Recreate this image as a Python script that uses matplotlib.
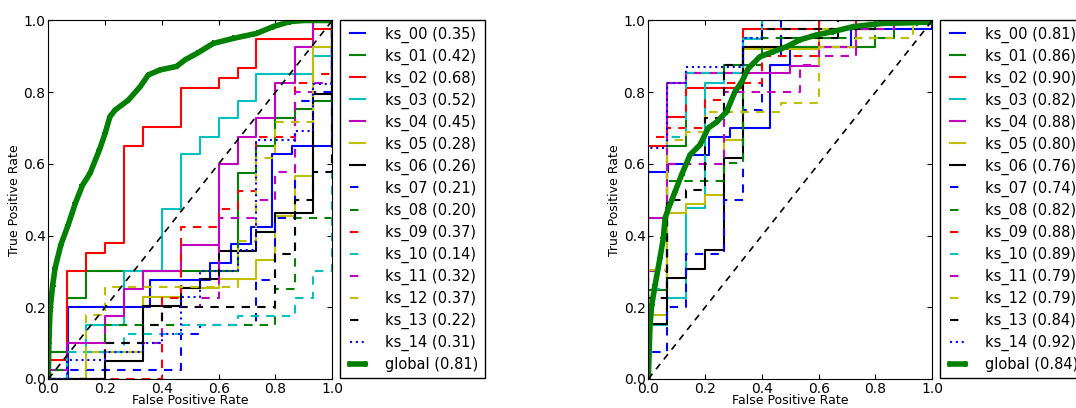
import matplotlib
matplotlib.use("Agg")
import matplotlib.pyplot as plt

# step curves: fpr where each vertical step happens, tpr level after the step
names = ['ks_%02d' % i for i in range(15)]

left_fpr = [
    [0, 0.071, 0.357, 0.571, 0.643, 0.714, 0.786, 0.857, 1.0],
    [0, 0, 0.067, 0.133, 0.667, 0.733, 0.8, 0.867, 0.933, 1.0],
    [0, 0, 0.067, 0.133, 0.2, 0.267, 0.333, 0.467, 0.6, 0.667, 0.733, 0.933, 1.0],
    [0, 0.133, 0.267, 0.4, 0.467, 0.533, 0.6, 0.667, 0.733, 0.933, 1.0],
    [0, 0, 0.067, 0.2, 0.267, 0.333, 0.467, 0.6, 0.667, 0.733, 0.8, 0.867, 0.933, 1.0],
    [0, 0.133, 0.333, 0.467, 0.6, 0.733, 0.8, 0.867, 0.933, 1.0],
    [0, 0.2, 0.333, 0.467, 0.533, 0.6, 0.733, 0.8, 0.933, 1.0],
    [0, 0, 0.467, 0.533, 0.733, 0.8, 0.867, 0.933, 1.0],
    [0, 0, 0.067, 0.2, 0.8, 0.867, 1.0],
    [0, 0.4, 0.467, 0.6, 0.667, 0.733, 0.867, 0.933, 1.0],
    [0, 0.067, 0.267, 0.467, 0.667, 0.867, 0.933, 1.0],
    [0, 0.2, 0.4, 0.533, 0.6, 0.733, 0.8, 0.867, 0.933, 1.0],
    [0, 0.133, 0.2, 0.667, 0.733, 0.8, 0.933, 1.0],
    [0, 0.2, 0.333, 0.4, 0.8, 0.867, 0.933, 1.0],
    [0, 0.067, 0.2, 0.333, 0.4, 0.467, 0.533, 0.667, 0.733, 0.867, 0.933, 1.0],
]
left_tpr = [
    [0, 0.2, 0.277, 0.324, 0.376, 0.425, 0.627, 0.65, 1.0],
    [0, 0.075, 0.225, 0.30, 0.575, 0.65, 0.727, 0.752, 0.776, 1.0],
    [0, 0.053, 0.30, 0.352, 0.378, 0.65, 0.704, 0.8125, 0.84, 0.867, 0.947, 0.975, 1.0],
    [0, 0.15, 0.30, 0.475, 0.627, 0.676, 0.727, 0.775, 0.851, 0.902, 1.0],
    [0, 0.025, 0.1, 0.175, 0.25, 0.30, 0.375, 0.6, 0.676, 0.727, 0.826, 0.927, 1.0, 1.0],
    [0, 0.075, 0.23, 0.255, 0.28, 0.333, 0.455, 0.565, 0.925, 1.0],
    [0, 0.05, 0.204, 0.255, 0.28, 0.358, 0.411, 0.462, 0.794, 1.0],
    [0, 0.025, 0.125, 0.15, 0.275, 0.45, 0.775, 0.8, 1.0],
    [0, 0.025, 0.075, 0.15, 0.25, 0.45, 1.0],
    [0, 0.225, 0.425, 0.475, 0.525, 0.676, 0.826, 0.852, 1.0],
    [0, 0.075, 0.125, 0.15, 0.175, 0.225, 0.30, 1.0],
    [0, 0.1, 0.2, 0.225, 0.45, 0.5, 0.576, 0.8, 0.825, 1.0],
    [0, 0.178, 0.256, 0.385, 0.616, 0.718, 0.925, 1.0],
    [0, 0.1, 0.15, 0.2, 0.35, 0.5, 0.576, 1.0],
    [0, 0.053, 0.075, 0.1, 0.125, 0.23, 0.3, 0.36, 0.667, 0.692, 0.823, 1.0],
]
left_auc = [0.35, 0.42, 0.68, 0.52, 0.45, 0.28, 0.26, 0.21, 0.20, 0.37, 0.14, 0.32, 0.37, 0.22, 0.31]

right_fpr = [
    [0, 0, 0.071, 0.143, 0.214, 0.286, 0.429, 0.5, 0.714, 1.0],
    [0, 0, 0.067, 0.133, 0.267, 0.333, 0.8, 0.867, 1.0],
    [0, 0, 0.067, 0.133, 0.333, 0.6, 1.0],
    [0, 0, 0.067, 0.133, 0.2, 0.267, 0.333, 0.4, 1.0],
    [0, 0, 0.067, 0.133, 0.5, 0.6, 0.733, 1.0],
    [0, 0, 0.067, 0.133, 0.2, 0.267, 0.333, 0.6, 0.8, 1.0],
    [0, 0, 0.067, 0.133, 0.2, 0.267, 0.333, 0.467, 0.667, 0.8, 1.0],
    [0, 0, 0.067, 0.133, 0.267, 0.333, 0.4, 0.467, 1.0],
    [0, 0, 0.067, 0.267, 0.333, 0.4, 0.8, 1.0],
    [0, 0, 0.067, 0.2, 0.267, 0.4, 0.6, 0.733, 1.0],
    [0, 0, 0.067, 0.133, 0.333, 0.4, 1.0],
    [0, 0, 0.067, 0.267, 0.533, 0.6, 0.733, 0.867, 1.0],
    [0, 0, 0.067, 0.133, 0.2, 0.467, 0.6, 0.733, 0.933, 1.0],
    [0, 0, 0.067, 0.133, 0.2, 0.267, 0.333, 0.4, 0.667, 1.0],
    [0, 0, 0.067, 0.133, 0.333, 0.4, 1.0],
]
right_tpr = [
    [0, 0.578, 0.6, 0.625, 0.676, 0.70, 0.876, 0.925, 0.975, 1.0],
    [0, 0.248, 0.65, 0.853, 0.876, 0.925, 0.95, 0.99, 1.0],
    [0, 0.65, 0.732, 0.813, 0.975, 1.0, 1.0],
    [0, 0.15, 0.225, 0.476, 0.827, 0.853, 0.947, 1.0, 1.0],
    [0, 0.45, 0.825, 0.853, 0.872, 0.925, 1.0, 1.0],
    [0, 0.178, 0.462, 0.487, 0.513, 0.668, 0.92, 0.975, 1.0, 1.0],
    [0, 0.152, 0.281, 0.306, 0.36, 0.616, 0.925, 0.95, 0.975, 1.0, 1.0],
    [0, 0.075, 0.2, 0.35, 0.5, 0.75, 0.9, 1.0, 1.0],
    [0, 0.25, 0.552, 0.602, 0.876, 0.95, 1.0, 1.0],
    [0, 0.676, 0.70, 0.779, 0.827, 0.9, 0.975, 1.0, 1.0],
    [0, 0.25, 0.676, 0.853, 0.95, 1.0, 1.0],
    [0, 0.3, 0.6, 0.8, 0.875, 0.9, 0.975, 1.0, 1.0],
    [0, 0.305, 0.668, 0.69, 0.744, 0.77, 0.925, 0.95, 1.0, 1.0],
    [0, 0.225, 0.5, 0.527, 0.727, 0.876, 0.927, 0.975, 1.0, 1.0],
    [0, 0.645, 0.825, 0.87, 0.95, 1.0, 1.0],
]
right_auc = [0.81, 0.86, 0.90, 0.82, 0.88, 0.80, 0.76, 0.74, 0.82, 0.88, 0.89, 0.79, 0.79, 0.84, 0.92]

# pooled curve of all ks
left_global_fpr = [0, 0.002, 0.006, 0.015, 0.024, 0.044, 0.07, 0.095, 0.12, 0.147, 0.18, 0.2, 0.217,
                   0.235, 0.282, 0.323, 0.352, 0.393, 0.452, 0.481, 0.523, 0.581, 0.651, 0.734, 0.792,
                   0.851, 0.9, 1.0]
left_global_tpr = [0, 0.1, 0.19, 0.26, 0.31, 0.374, 0.43, 0.49, 0.54, 0.574, 0.639, 0.685, 0.732,
                   0.75, 0.778, 0.815, 0.848, 0.862, 0.872, 0.89, 0.908, 0.936, 0.95, 0.964, 0.983,
                   0.997, 1.0, 1.0]
left_global_auc = 0.81

right_global_fpr = [0, 0.006, 0.012, 0.024, 0.041, 0.053, 0.059, 0.071, 0.094, 0.117, 0.147, 0.182,
                    0.211, 0.241, 0.276, 0.305, 0.329, 0.352, 0.393, 0.44, 0.487, 0.534, 0.593, 0.651,
                    0.722, 0.828, 0.945, 1.0]
right_global_tpr = [0, 0.15, 0.206, 0.262, 0.337, 0.392, 0.448, 0.476, 0.522, 0.569, 0.625, 0.653,
                    0.70, 0.717, 0.746, 0.801, 0.829, 0.866, 0.899, 0.913, 0.927, 0.946, 0.96, 0.969,
                    0.983, 0.992, 0.994, 1.0]
right_global_auc = 0.84

colors = [(0, 0, 1), (0, 0.5, 0), (1, 0, 0), (0, 0.75, 0.75), (0.75, 0, 0.75), (0.75, 0.75, 0), (0, 0, 0)]
styles = ['-'] * 7 + ['--'] * 7 + [':']
line_colors = colors + colors + [(0, 0, 1)]

plt.rcParams['font.family'] = 'DejaVu Sans'
plt.rcParams['lines.dashed_pattern'] = [4, 3.5]
plt.rcParams['lines.dotted_pattern'] = [1, 1.8]

fig = plt.figure(figsize=(10.76, 4.08), dpi=100)
ax_l = fig.add_axes([0.0449, 0.0711, 0.2639, 0.8787])
ax_r = fig.add_axes([0.6025, 0.0711, 0.2639, 0.8787])


def draw_panel(ax, fprs, tprs, aucs, g_fpr, g_tpr, g_auc):
    for i in range(len(names)):
        ax.plot(fprs[i], tprs[i], drawstyle='steps-post', linestyle=styles[i],
                color=line_colors[i], linewidth=1.5,
                label='%s (%.2f)' % (names[i], aucs[i]))
    ax.plot(g_fpr, g_tpr, color=(0, 0.5, 0), linewidth=4, marker='+',
            markersize=5, markeredgewidth=1.5, label='global (%.2f)' % g_auc)
    ax.plot([0, 1], [0, 1], 'k--', linewidth=1.2)
    ax.set_xlim(0, 1)
    ax.set_ylim(0, 1)
    ax.set_xticks([0, 0.2, 0.4, 0.6, 0.8, 1.0])
    ax.set_yticks([0, 0.2, 0.4, 0.6, 0.8, 1.0])
    ax.set_xticklabels(['0.0', '0.2', '0.4', '0.6', '0.8', '1.0'])
    ax.set_yticklabels(['0.0', '0.2', '0.4', '0.6', '0.8', '1.0'])
    ax.tick_params(direction='in', top=True, right=True, length=3.5, labelsize=10, pad=2)
    ax.set_xlabel('False Positive Rate', fontsize=9, labelpad=-1)
    ax.set_ylabel('True Positive Rate', fontsize=9, labelpad=2)
    leg = ax.legend(loc='upper left', bbox_to_anchor=(1.028, 1.0), borderaxespad=0,
                    fontsize=10.5, numpoints=2, handlelength=1.6, handletextpad=1.1,
                    labelspacing=0.40, borderpad=0.4, fancybox=False, framealpha=1,
                    edgecolor='black')
    leg.get_frame().set_linewidth(1.0)


draw_panel(ax_l, left_fpr, left_tpr, left_auc, left_global_fpr, left_global_tpr, left_global_auc)
draw_panel(ax_r, right_fpr, right_tpr, right_auc, right_global_fpr, right_global_tpr, right_global_auc)

fig.savefig('out.png', dpi=100)
